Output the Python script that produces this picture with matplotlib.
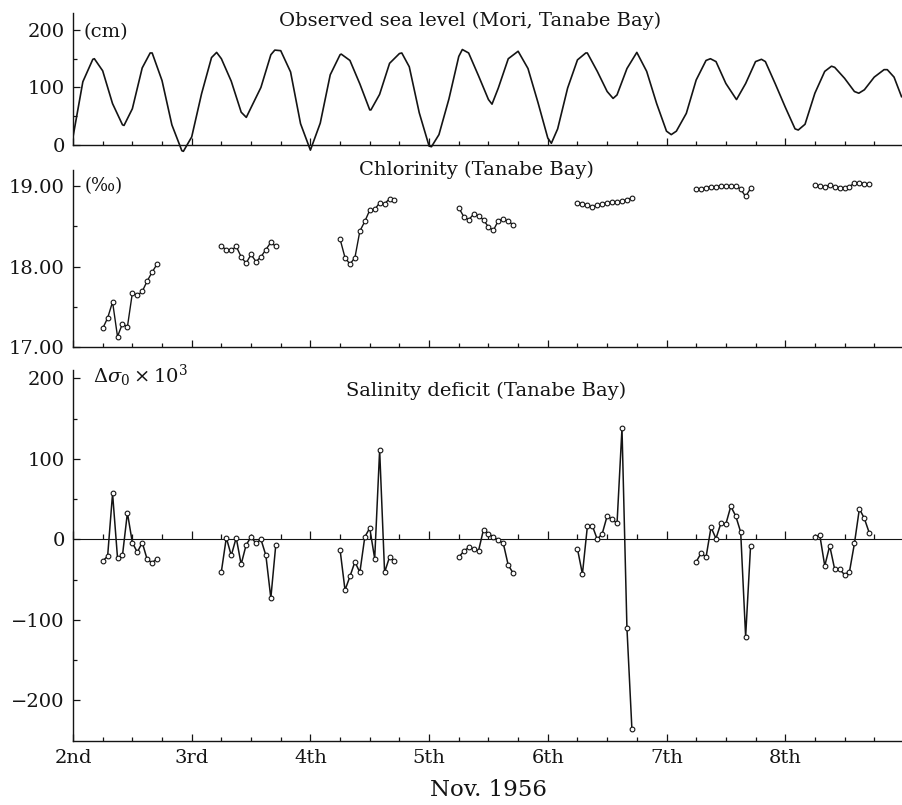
import matplotlib
matplotlib.use('Agg')
import matplotlib.pyplot as plt
from matplotlib.ticker import MultipleLocator, FixedLocator, NullFormatter

plt.rcParams['font.family'] = ['DejaVu Serif']
plt.rcParams['mathtext.fontset'] = 'dejavuserif'

# observed sea level at Mori (cm); time in days of Nov. 1956
tide_day = [2.000, 2.083, 2.167, 2.18, 2.250, 2.333, 2.417, 2.43, 2.500, 2.583,
            2.65, 2.667, 2.750, 2.833, 2.917, 2.93, 3.000, 3.083, 3.167, 3.21,
            3.250, 3.333, 3.417, 3.46, 3.500, 3.583, 3.667, 3.70, 3.750, 3.833,
            3.917, 4.000, 4.083, 4.167, 4.250, 4.26, 4.333, 4.417, 4.500, 4.51,
            4.583, 4.667, 4.750, 4.77, 4.833, 4.917, 5.000, 5.02, 5.083, 5.167,
            5.250, 5.28, 5.333, 5.417, 5.500, 5.53, 5.583, 5.667, 5.750, 5.833,
            5.917, 6.000, 6.03, 6.083, 6.167, 6.250, 6.32, 6.333, 6.417, 6.500,
            6.55, 6.583, 6.667, 6.750, 6.833, 6.917, 7.000, 7.04, 7.083, 7.167,
            7.250, 7.333, 7.37, 7.417, 7.500, 7.583, 7.59, 7.667, 7.750, 7.80,
            7.833, 7.917, 8.000, 8.083, 8.11, 8.167, 8.250, 8.333, 8.39, 8.417,
            8.500, 8.583, 8.62, 8.667, 8.750, 8.833, 8.86, 8.917, 8.980]
tide_cm = [14, 110, 149, 150, 129, 72, 35, 34, 63, 134,
           160, 160, 112, 35, -10, -11, 14, 89, 152, 161,
           150, 111, 57, 48, 65, 100, 157, 165, 164, 127,
           37, -9, 38, 122, 157, 158, 147, 106, 61, 61,
           88, 142, 159, 160, 136, 56, -2, -3, 18, 80,
           154, 166, 160, 120, 79, 71, 99, 150, 163, 133,
           74, 12, 3, 28, 99, 148, 160, 160, 128, 93,
           81, 87, 133, 161, 128, 72, 24, 18, 24, 55,
           113, 147, 150, 145, 107, 81, 79, 107, 145, 149,
           145, 106, 66, 28, 26, 36, 90, 128, 137, 135,
           116, 93, 90, 96, 118, 131, 131, 118, 84]

# hourly observations in Tanabe Bay, 06h - 17h each day
obs_hours = [6, 7, 8, 9, 10, 11, 12, 13, 14, 15, 16, 17]
obs_days = [2, 3, 4, 5, 6, 7, 8]

chl_nov2 = [17.23, 17.36, 17.56, 17.13, 17.29, 17.25, 17.67, 17.64, 17.69, 17.82, 17.93, 18.03]
chl_nov3 = [18.25, 18.21, 18.20, 18.25, 18.12, 18.04, 18.15, 18.06, 18.12, 18.21, 18.30, 18.25]
chl_nov4 = [18.34, 18.11, 18.03, 18.11, 18.44, 18.56, 18.70, 18.71, 18.79, 18.78, 18.84, 18.82]
chl_nov5 = [18.73, 18.62, 18.58, 18.65, 18.63, 18.58, 18.49, 18.45, 18.57, 18.59, 18.56, 18.52]
chl_nov6 = [18.79, 18.78, 18.76, 18.74, 18.76, 18.78, 18.79, 18.80, 18.80, 18.81, 18.83, 18.85]
chl_nov7 = [18.96, 18.96, 18.98, 18.99, 18.99, 19.00, 19.00, 19.00, 19.00, 18.96, 18.87, 18.97]
chl_nov8 = [19.01, 19.00, 18.99, 19.01, 18.99, 18.98, 18.98, 18.99, 19.04, 19.04, 19.03, 19.02]

# salinity deficit, delta sigma_0 x 10^3
dsig_nov2 = [-27, -21, 57, -23, -20, 33, -4, -16, -4, -25, -29, -24]
dsig_nov3 = [-40, 2, -20, 2, -31, -7, 3, -5, 0, -20, -73, -7]
dsig_nov4 = [-13, -63, -46, -28, -41, 3, 14, -24, 111, -41, -22, -27]
dsig_nov5 = [-22, -15, -10, -12, -14, 12, 7, 3, -1, -5, -32, -42]
dsig_nov6 = [-12, -43, 16, 17, 0, 7, 29, 25, 20, 138, -110, -235]
dsig_nov7 = [-28, -17, -22, 15, 1, 20, 19, 41, 29, 9, -121, -8]
dsig_nov8 = [3, 5, -33, -8, -37, -37, -44, -40, -5, 38, 26, 8]

day_ticks = [2, 3, 4, 5, 6, 7, 8]
day_labels = ['2nd', '3rd', '4th', '5th', '6th', '7th', '8th']

chl_series = [chl_nov2, chl_nov3, chl_nov4, chl_nov5, chl_nov6, chl_nov7, chl_nov8]
dsig_series = [dsig_nov2, dsig_nov3, dsig_nov4, dsig_nov5, dsig_nov6, dsig_nov7, dsig_nov8]

W, H = 902, 805
INK = '#141414'


def fpos(x, y):
    return x / W, 1 - y / H


def style_axis(ax):
    for s in ['top', 'right']:
        ax.spines[s].set_visible(False)
    for s in ['left', 'bottom']:
        ax.spines[s].set_linewidth(1.0)
        ax.spines[s].set_color(INK)
    ax.set_xlim(2, 8.98)
    ax.xaxis.set_major_locator(FixedLocator(day_ticks))
    ax.xaxis.set_minor_locator(MultipleLocator(0.25))
    ax.tick_params(which='both', direction='in', top=False, right=False,
                   colors=INK, labelsize=14, width=0.9, pad=6)
    ax.tick_params(which='major', length=5)
    ax.tick_params(which='minor', length=3)
    ax.patch.set_alpha(0)


fig = plt.figure(figsize=(W / 100, H / 100), dpi=100)
left = 73 / W
width = 6.98 * 118.7 / W

# sea level
ax1 = fig.add_axes([left, 1 - 153.6 / H, width, 140.3 / H])
style_axis(ax1)
ax1.plot(tide_day, tide_cm, color=INK, lw=1.2, solid_joinstyle='round')
ax1.set_ylim(-15, 229)
ax1.spines['bottom'].set_position(('data', 0))
ax1.spines['left'].set_bounds(0, 229)
ax1.set_yticks([0, 100, 200])
ax1.yaxis.set_minor_locator(FixedLocator([50, 150]))
ax1.tick_params(labelbottom=False)

# chlorinity
ax2 = fig.add_axes([left, 1 - 347 / H, width, 177.1 / H])
style_axis(ax2)
for d, vals in zip(obs_days, chl_series):
    t = [d + h / 24 for h in obs_hours]
    ax2.plot(t, vals, color=INK, lw=1.0, marker='o', ms=3.4, mfc='white',
             mec=INK, mew=0.8)
ax2.set_ylim(17.0, 19.2)
ax2.set_yticks([17, 18, 19])
ax2.set_yticklabels(['17.00', '18.00', '19.00'])
ax2.yaxis.set_minor_locator(FixedLocator([17.5, 18.5]))
ax2.tick_params(labelbottom=False)

# salinity deficit
ax3 = fig.add_axes([left, 1 - 740.6 / H, width, 370.3 / H])
style_axis(ax3)
for d, vals in zip(obs_days, dsig_series):
    t = [d + h / 24 for h in obs_hours]
    ax3.plot(t, vals, color=INK, lw=1.1, marker='o', ms=3.4, mfc='white',
             mec=INK, mew=0.8, zorder=3)
ax3.set_ylim(-250, 210)
ax3.set_yticks([-200, -100, 0, 100, 200])
ax3.yaxis.set_minor_locator(FixedLocator([-150, -50, 50, 150]))
ax3.set_xticklabels(day_labels)

# zero line with 6-hourly ticks pointing up
zero = ax3.secondary_xaxis(250 / 460)
zero.set_alignment('bottom')
zero.spines['bottom'].set_linewidth(0.8)
zero.spines['bottom'].set_color(INK)
zero.xaxis.set_major_locator(FixedLocator(day_ticks))
zero.xaxis.set_minor_locator(MultipleLocator(0.25))
zero.xaxis.set_major_formatter(NullFormatter())
zero.xaxis.set_minor_formatter(NullFormatter())
zero.tick_params(which='both', direction='in', bottom=True, top=False,
                 labelbottom=False, labeltop=False, colors=INK, width=0.9)
zero.tick_params(which='major', length=6)
zero.tick_params(which='minor', length=3.5)

# panel captions and units
fig.text(*fpos(470, 21), 'Observed sea level (Mori, Tanabe Bay)', ha='center', va='center',
         fontsize=14, color=INK)
fig.text(*fpos(476, 170), 'Chlorinity (Tanabe Bay)', ha='center', va='center',
         fontsize=14, color=INK)
fig.text(*fpos(486, 391), 'Salinity deficit (Tanabe Bay)', ha='center', va='center',
         fontsize=14, color=INK)
fig.text(*fpos(106, 32), '(cm)', ha='center', va='center', fontsize=14, color=INK)
fig.text(*fpos(104, 186), '(\u2030)', ha='center', va='center', fontsize=13, color=INK)
fig.text(*fpos(140, 376), r'$\Delta\sigma_0\times10^3$', ha='center', va='center',
         fontsize=14, color=INK)
fig.text(*fpos(489, 790), 'Nov. 1956', ha='center', va='center', fontsize=16.5, color=INK)

fig.savefig('out.png', dpi=100, facecolor='white')
